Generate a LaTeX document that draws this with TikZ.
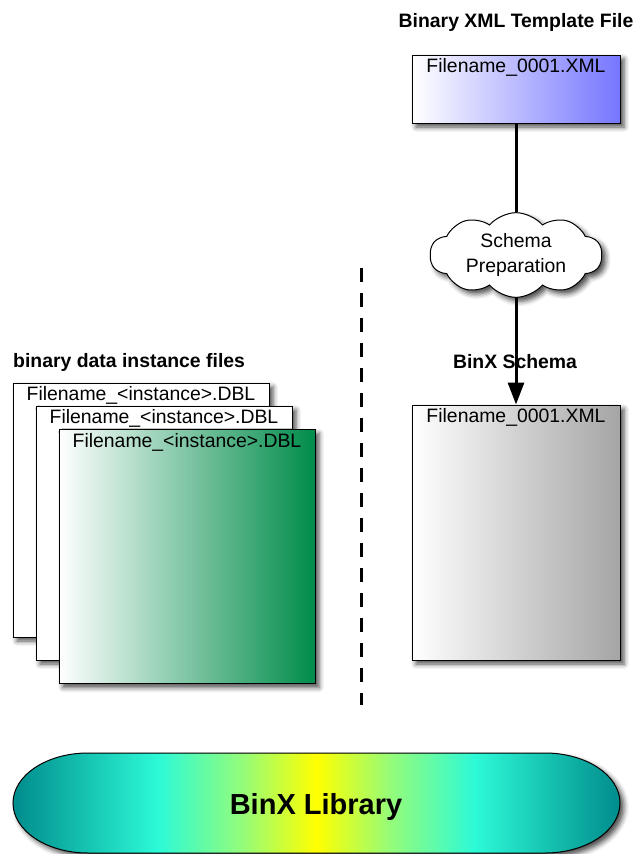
\documentclass[tikz,border=0pt]{standalone}
\usepackage{fontspec}
\setmainfont{Liberation Sans}
\usetikzlibrary{shapes.symbols,shadows.blur,arrows.meta}

\definecolor{xmlblue}{RGB}{118,118,255}
\definecolor{dblgreen}{RGB}{0,140,74}
\definecolor{schemagray}{RGB}{165,165,165}
\definecolor{libteal}{RGB}{0,140,140}
\definecolor{libcyan}{RGB}{45,250,215}
\definecolor{libgreen}{RGB}{150,252,120}
\definecolor{libyellow}{RGB}{255,255,0}
% only the middle half (25bp..75bp) ends up inside the path
\pgfdeclarehorizontalshading{libshade}{100bp}{color(0bp)=(libteal); color(25bp)=(libteal); color(37bp)=(libcyan); color(44bp)=(libgreen); color(50bp)=(libyellow); color(56bp)=(libgreen); color(63bp)=(libcyan); color(75bp)=(libteal); color(100bp)=(libteal)}

\begin{document}
\begin{tikzpicture}[x=1pt,y=-1pt,
  softshadow/.style={blur shadow={shadow xshift=4pt, shadow yshift=-4pt, shadow blur radius=5pt, shadow opacity=70}},
  filebox/.style={draw, line width=1pt, inner sep=0pt, softshadow},
  dblbox/.style={filebox, fill=white, minimum width=256pt, minimum height=254pt},
  fname/.style={anchor=north, inner sep=4pt, font=\fontsize{19.4}{23}\selectfont},
  heading/.style={font=\fontsize{19.4}{23}\selectfont\bfseries},
  link/.style={line width=3pt}]
\useasboundingbox (0,0) rectangle (634,854);

% template file and schema preparation
\node[heading, anchor=base] (tmpl-title) at (516,27) {Binary XML Template File};
\node[filebox, left color=white, right color=xmlblue, minimum width=208pt, minimum height=68pt] (tmpl) at (516,89) {};
\node[fname] (tmpl-name) at (tmpl.north) {Filename\_0001.XML};
\node[cloud, draw, line width=1pt, fill=white, cloud puffs=10, cloud puff arc=100, aspect=2.1, minimum width=172pt, minimum height=80pt, inner sep=0pt, align=center, font=\fontsize{19.4}{25}\selectfont, softshadow] (prep) at (516,255) {Schema\\Preparation};
\draw[link] (tmpl.south) -- (prep);

% binx schema
\node[heading, anchor=base] (schema-title) at (515,368) {BinX Schema};
\node[filebox, left color=white, right color=schemagray, minimum width=208pt, minimum height=255pt] (schema) at (516,532.5) {};
\node[fname] (schema-name) at (schema.north) {Filename\_0001.XML};
\draw[link, -{Triangle[width=16pt,length=22pt]}] (prep) -- (schema.north);

% instance files
\node[heading, anchor=base west, inner sep=0pt] (dbl-title) at (13,367) {binary data instance files};
\node[dblbox] (dbl-a) at (141,510) {};
\node[fname] (dbl-a-name) at (dbl-a.north) {Filename\_<instance>.DBL};
\node[dblbox] (dbl-b) at (164,533) {};
\node[fname] (dbl-b-name) at (dbl-b.north) {Filename\_<instance>.DBL};
\node[dblbox, left color=white, right color=dblgreen] (dbl-c) at (187,556.5) {};
\node[fname] (dbl-c-name) at (dbl-c.north) {Filename\_<instance>.DBL};

% divider
\coordinate (div-top) at (361,268);
\coordinate (div-bot) at (361,705);
\draw[line width=3pt, dash pattern=on 14pt off 11pt] (div-top) -- (div-bot);

% library
\shade[shading=libshade, draw, line width=1pt, softshadow] (88,753) -- (545,753)
  arc[start angle=-90, end angle=90, x radius=75, y radius=50] -- (88,853)
  arc[start angle=90, end angle=270, x radius=75, y radius=50] -- cycle;
\node[font=\fontsize{29}{34}\selectfont\bfseries] (lib) at (316,807) {BinX Library};
\end{tikzpicture}
\end{document}
